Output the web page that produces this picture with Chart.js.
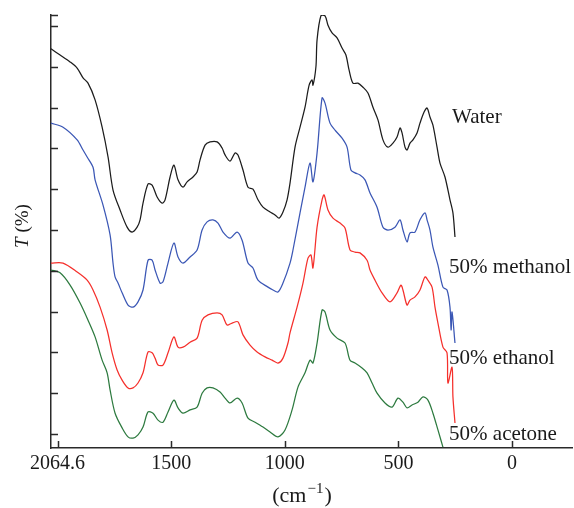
<!DOCTYPE html>
<html>
<head>
<meta charset="utf-8">
<script src="https://cdn.jsdelivr.net/npm/chart.js@4.4.1/dist/chart.umd.min.js"></script>
<style>
html,body{margin:0;padding:0;background:#fff;}
#wrap{width:574px;height:508px;position:relative;}
</style>
</head>
<body>
<div id="wrap"><canvas id="c" width="574" height="508"></canvas></div>
<script>
// ---- Data (wavenumber in cm^-1, transmittance in arbitrary % units) ----
const waterWn = [2029,1989,1945,1914,1888,1866,1835,1804,1778,1756,1725,1694,1672,1650,1637,1624,1602,1584,1562,1540,1527,1505,1488,1470,1448,1430,1404,1386,1373,1351,1329,1298,1276,1263,1241,1219,1206,1184,1162,1140,1118,1096,1065,1043,1025,1008,990,977,955,933,911,893,880,876,863,858,841,823,810,792,770,748,731,717,700,678,656,634,612,590,568,546,524,506,493,484,471,462,449,436,418,405,387,374,361,348,330,317,295,273,260,251];
const waterT  = [94.4,92.9,91.2,89.7,87.3,86.0,81.9,75.2,67.9,59.8,54.9,50.7,49.5,50.7,52.5,56.6,61.3,61.0,58.1,56.6,57.4,63.0,65.9,62.3,60.5,61.8,63.0,64.2,67.2,70.8,71.6,71.6,70.1,68.4,66.9,68.9,68.4,64.7,60.5,60.0,57.4,55.6,54.4,53.7,52.9,54.4,57.4,61.5,70.3,75.2,80.1,85.5,86.8,85.5,90.0,96.6,102.5,102.5,100.2,98.3,97.1,94.6,92.9,89.2,86.0,86.0,85.0,83.6,80.1,77.0,72.1,70.3,71.3,72.8,75.0,73.8,70.3,69.6,71.3,72.1,73.8,76.2,78.9,79.9,77.7,75.7,70.3,66.4,63.0,57.4,54.2,48.3];

const methanolWn = [2029,1976,1914,1888,1870,1844,1835,1800,1769,1756,1747,1734,1716,1690,1668,1646,1624,1602,1584,1571,1549,1536,1514,1488,1470,1448,1417,1386,1364,1342,1316,1294,1272,1241,1210,1188,1162,1140,1118,1074,1052,1030,1008,977,964,933,911,889,876,858,836,823,801,779,748,726,709,691,669,647,625,594,568,546,515,493,480,462,449,427,405,383,374,361,348,326,304,286,273,268,264,251];
const methanolT  = [76.2,75.2,72.1,69.6,67.9,65.4,62.3,56.1,48.8,41.9,38.5,37.0,34.6,31.6,31.1,32.4,35.3,42.6,42.6,40.2,37.0,37.3,41.9,46.8,43.4,41.9,43.4,45.1,50.0,52.0,52.5,51.7,49.5,48.0,49.5,47.5,41.9,40.7,37.7,36.0,35.3,34.8,37.0,41.9,45.1,54.2,60.5,66.4,61.8,68.9,82.4,81.1,76.2,74.5,72.5,70.3,64.7,64.0,63.5,62.3,59.1,55.6,50.7,50.0,50.7,52.5,50.0,47.1,49.3,49.5,52.5,54.2,52.5,50.0,45.8,41.4,36.0,35.3,31.1,25.5,29.9,22.3];

const ethanolWn = [2029,1976,1914,1870,1844,1813,1782,1760,1738,1716,1690,1668,1646,1624,1602,1584,1571,1558,1536,1514,1488,1470,1448,1417,1386,1364,1338,1298,1276,1254,1232,1206,1184,1153,1122,1087,1056,1030,1008,986,977,946,920,898,885,876,858,836,827,810,788,757,735,713,691,669,638,625,603,572,537,506,489,480,462,449,427,405,383,370,352,339,326,304,286,282,264,260,251];
const ethanolT  = [41.9,41.9,39.7,37.7,35.3,31.1,25.5,19.9,15.7,13.2,11.3,11.3,12.5,15.0,20.1,19.9,18.6,16.9,16.9,19.9,23.8,21.3,21.3,22.5,23.5,27.9,29.2,29.7,29.2,26.7,27.2,27.5,24.3,21.8,20.1,18.9,18.1,17.4,18.6,22.3,24.8,31.1,37.0,43.1,43.9,40.7,50.7,57.4,58.6,54.9,52.9,51.7,50.5,45.1,44.6,44.4,42.6,40.2,37.7,34.6,32.4,34.6,36.5,35.3,31.6,32.8,33.6,35.3,38.5,37.7,36.0,31.1,27.2,21.3,19.9,12.5,16.4,9.1,2.7];

const acetoneWn = [2029,1989,1945,1901,1866,1835,1804,1782,1769,1747,1716,1690,1668,1646,1624,1602,1580,1558,1536,1514,1488,1470,1448,1417,1386,1364,1342,1316,1285,1263,1241,1210,1188,1162,1131,1096,1065,1030,999,968,942,911,889,876,858,836,823,801,770,735,713,691,660,638,616,594,559,528,502,480,462,440,414,392,370,348,326,304];
const acetoneT  = [40.2,39.5,36.5,32.1,27.9,23.8,18.1,15.0,10.8,5.1,1.5,-0.7,-1.0,-0.2,1.7,5.4,5.1,3.4,2.9,5.4,8.3,6.4,5.1,5.9,6.6,10.0,11.3,11.3,10.3,8.8,7.6,8.8,7.6,3.9,2.9,1.7,0.5,-0.7,1.0,5.9,11.5,15.0,18.1,17.4,22.3,30.4,29.9,25.5,23.5,22.3,18.1,17.4,16.2,15.0,12.5,10.0,7.6,6.6,8.8,7.8,6.4,7.1,7.8,9.1,8.3,5.1,1.0,-3.2];

const seriesNames = ['Water','50% methanol','50% ethanol','50% acetone'];
const labelWn = [264, 277, 277, 277];
const labelT  = [77.7, 40.9, 18.6, 0.0];

const xTickValues = [2000, 1500, 1000, 500, 0];
const xTickLabels = ['2064.6', '1500', '1000', '500', '0'];
const yTickValues = [0,10,20,30,40,50,60,70,80,90,100,102.7];

const X_MIN = -264, X_MAX = 2029, Y_MIN = -3.43, Y_MAX = 102.7;

function zip(xs, ys){ return xs.map((x,i)=>({x:x, y:ys[i]})); }

const colors = ['#1c1c1c', '#3b57b5', '#f5302c', '#2d7a3f'];
const allWn = [waterWn, methanolWn, ethanolWn, acetoneWn];
const allT = [waterT, methanolT, ethanolT, acetoneT];

const FONT = "'Liberation Serif', 'DejaVu Serif', serif";

const decorPlugin = {
  id: 'decor',
  afterDraw(chart){
    const ctx = chart.ctx;
    const xs = chart.scales.x, ys = chart.scales.y;
    const area = chart.chartArea;
    ctx.save();
    ctx.strokeStyle = '#2a2a2a';
    ctx.lineWidth = 1.5;
    // inward y ticks
    yTickValues.forEach(v=>{
      const py = Math.round(ys.getPixelForValue(v)) + 0.5;
      ctx.beginPath(); ctx.moveTo(area.left, py); ctx.lineTo(area.left + 7, py); ctx.stroke();
    });
    // inward x ticks
    xTickValues.forEach(v=>{
      const px = Math.round(xs.getPixelForValue(v)) + 0.5;
      ctx.beginPath(); ctx.moveTo(px, area.bottom); ctx.lineTo(px, area.bottom - 7); ctx.stroke();
    });
    // series labels
    ctx.fillStyle = '#1a1a1a';
    ctx.font = '21px ' + FONT;
    ctx.textAlign = 'left';
    ctx.textBaseline = 'middle';
    seriesNames.forEach((n,i)=>{
      ctx.fillText(n, xs.getPixelForValue(labelWn[i]), ys.getPixelForValue(labelT[i]));
    });
    // x title (cm^-1)
    ctx.textBaseline = 'alphabetic';
    const base = 502, cx = 302;
    ctx.font = '22px ' + FONT;
    const w1 = ctx.measureText('(cm').width;
    ctx.font = '15px ' + FONT;
    const w2 = ctx.measureText('\u22121').width;
    ctx.font = '22px ' + FONT;
    const w3 = ctx.measureText(')').width;
    let sx = cx - (w1 + w2 + w3 + 2)/2;
    ctx.fillText('(cm', sx, base); sx += w1 + 1;
    ctx.font = '15px ' + FONT;
    ctx.fillText('\u22121', sx, base - 9); sx += w2 + 1;
    ctx.font = '22px ' + FONT;
    ctx.fillText(')', sx, base);
    // y title T (%)
    ctx.save();
    ctx.translate(28, 226);
    ctx.rotate(-Math.PI/2);
    ctx.font = 'italic 19px ' + FONT;
    const t1 = ctx.measureText('T').width;
    ctx.font = '19px ' + FONT;
    const t2 = ctx.measureText(' (%)').width;
    let tx = -(t1 + t2)/2;
    ctx.font = 'italic 19px ' + FONT;
    ctx.fillText('T', tx, 0);
    ctx.font = '19px ' + FONT;
    ctx.fillText(' (%)', tx + t1, 0);
    ctx.restore();
    ctx.restore();
  }
};

new Chart(document.getElementById('c'), {
  type: 'line',
  data: {
    datasets: seriesNames.map((n,i)=>({
      label: n,
      data: zip(allWn[i], allT[i]),
      borderColor: colors[i],
      borderWidth: 1.25,
      pointRadius: 0,
      tension: 0.3,
      fill: false
    }))
  },
  options: {
    responsive: false,
    animation: false,
    layout: { padding: { top: 15, right: 2, left: 0, bottom: 0 } },
    plugins: { legend: { display: false }, tooltip: { enabled: false } },
    scales: {
      x: {
        type: 'linear',
        reverse: true,
        min: X_MIN, max: X_MAX,
        afterBuildTicks: s => { s.ticks = xTickValues.map(v=>({value:v})); },
        afterFit: s => { s.height = 60; },
        grid: { display: false, drawTicks: false },
        border: { display: true, color: '#2a2a2a', width: 1.5 },
        ticks: {
          autoSkip: false, maxRotation: 0, padding: 4,
          color: '#1a1a1a',
          font: { family: FONT, size: 20 },
          callback: v => { const i = xTickValues.indexOf(v); return i >= 0 ? xTickLabels[i] : ''; }
        }
      },
      y: {
        type: 'linear',
        min: Y_MIN, max: Y_MAX,
        afterFit: s => { s.width = 51; },
        grid: { display: false, drawTicks: false },
        border: { display: true, color: '#2a2a2a', width: 1.5 },
        ticks: { display: false }
      }
    }
  },
  plugins: [decorPlugin]
});
</script>
</body>
</html>
